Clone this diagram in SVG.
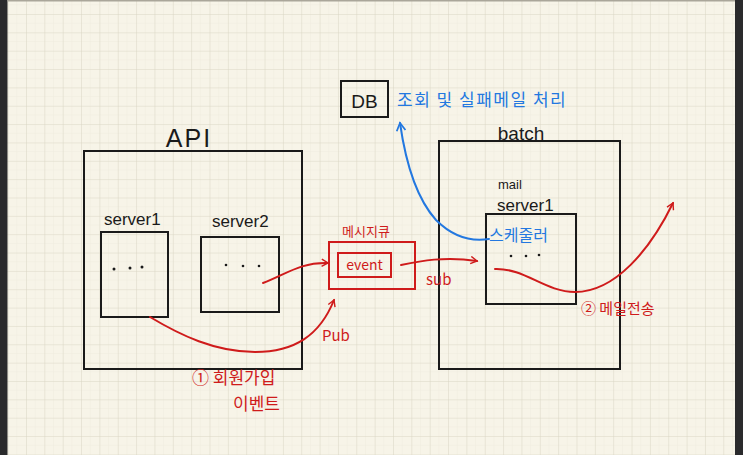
<svg xmlns="http://www.w3.org/2000/svg" width="743" height="455" viewBox="0 0 743 455">
<defs>
<pattern id="grid" x="7.65" y="-4.35" width="18.35" height="18.35" patternUnits="userSpaceOnUse">
<path d="M9.17 0V18.35M0 9.17H18.35" fill="none" stroke="#f0ede0" stroke-width="0.6"/>
<path d="M0 0V18.35M0 0H18.35" fill="none" stroke="#d9d5c3" stroke-width="1"/>
</pattern>
<marker id="ar" viewBox="0 0 10 10" refX="8" refY="5" markerWidth="9" markerHeight="9" orient="auto" markerUnits="userSpaceOnUse">
<path d="M1 1L8 5L1 9" fill="none" stroke="#cf1b1b" stroke-width="1.6"/>
</marker>
<marker id="ab" viewBox="0 0 10 10" refX="8" refY="5" markerWidth="11" markerHeight="11" orient="auto" markerUnits="userSpaceOnUse">
<path d="M1 1L8 5L1 9" fill="none" stroke="#2378e0" stroke-width="1.6"/>
</marker>
</defs>
<style>
.box{fill:none;stroke:#1a1a1a;stroke-width:2}
.rbox{fill:none;stroke:#cf1b1b;stroke-width:2}
.t{font-family:"Liberation Sans","Noto Sans CJK KR",sans-serif;fill:#1a1a1a}
.r{font-family:"Noto Sans CJK KR","Liberation Sans",sans-serif;fill:#cf1b1b}
.b{font-family:"Noto Sans CJK KR","Liberation Sans",sans-serif;fill:#2378e0}
.rl{fill:none;stroke:#cf1b1b;stroke-width:2;stroke-linecap:round}
.bl{fill:none;stroke:#2378e0;stroke-width:2;stroke-linecap:round}
.dot{fill:#1a1a1a}
</style>
<rect width="743" height="455" fill="#f7f4e8"/>
<rect width="743" height="455" fill="url(#grid)"/>
<rect x="0" y="0" width="7.5" height="455" fill="#2a2a2c"/>
<rect x="735" y="0" width="8" height="455" fill="#2a2a2c"/>
<line x1="7.5" y1="0.8" x2="735" y2="0.8" stroke="#aaa69a" stroke-width="1.5"/>

<g id="db">
<rect class="box" x="341" y="81" width="47" height="36"/>
<text class="t" x="364.5" y="108" font-size="19" text-anchor="middle">DB</text>
</g>
<g id="db-note">
<text class="b" x="397" y="106" font-size="17" letter-spacing="1.5">조회 및 실패메일  처리</text>
</g>

<g id="api">
<rect class="box" x="84" y="151" width="218" height="218"/>
<text class="t" x="189" y="147" font-size="25" text-anchor="middle" letter-spacing="2">API</text>
</g>
<g id="server1">
<text class="t" x="104" y="225" font-size="17">server1</text>
<rect class="box" x="101" y="232" width="67" height="85"/>
<circle class="dot" cx="114" cy="269" r="1.5"/>
<circle class="dot" cx="130" cy="268" r="1.5"/>
<circle class="dot" cx="142" cy="267" r="1.5"/>
</g>
<g id="server2">
<text class="t" x="212" y="227" font-size="17">server2</text>
<rect class="box" x="201" y="237" width="78" height="75"/>
<circle class="dot" cx="226" cy="265" r="1.3"/>
<circle class="dot" cx="243" cy="266" r="1.3"/>
<circle class="dot" cx="259" cy="266" r="1.3"/>
</g>

<g id="mq">
<text class="r" x="342" y="236" font-size="13">메시지큐</text>
<rect class="rbox" x="329" y="242" width="86" height="47"/>
<rect class="rbox" x="338" y="253" width="53" height="24"/>
<text class="r" x="364.5" y="270" font-size="14" text-anchor="middle">event</text>
</g>

<g id="batch">
<rect class="box" x="439" y="141" width="181" height="228"/>
<text class="t" x="521" y="140" font-size="19" text-anchor="middle">batch</text>
</g>
<g id="mailserver">
<text class="t" x="498" y="189" font-size="13">mail</text>
<text class="t" x="497" y="211" font-size="17">server1</text>
<rect class="box" x="486" y="214" width="90" height="90"/>
<text class="b" x="489" y="241" font-size="16">스케줄러</text>
<circle class="dot" cx="511" cy="256" r="1.3"/>
<circle class="dot" cx="526" cy="256" r="1.3"/>
<circle class="dot" cx="539" cy="255" r="1.3"/>
</g>

<g id="connectors">
<path class="bl" d="M489 239C470 242 452 236 436 220C418 200 406 165 400 123" marker-end="url(#ab)"/>
<path class="rl" d="M263 283C285 275 300 262 328 263" marker-end="url(#ar)"/>
<path class="rl" d="M401 265C420 261 445 256 477 261" marker-end="url(#ar)"/>
<path class="rl" d="M150 317C180 335 215 352 255 352C295 352 320 335 334 300" marker-end="url(#ar)"/>
<path class="rl" d="M495 269C525 268 545 292 575 292C615 292 650 250 673 203" marker-end="url(#ar)"/>
<text class="r" x="426" y="285" font-size="15">sub</text>
<text class="r" x="322" y="341" font-size="15">Pub</text>
<text class="r" x="192" y="384" font-size="17">① 회원가입</text>
<text class="r" x="233" y="410" font-size="17">이벤트</text>
<text class="r" x="581" y="314" font-size="15">② 메일전송</text>
</g>
</svg>
